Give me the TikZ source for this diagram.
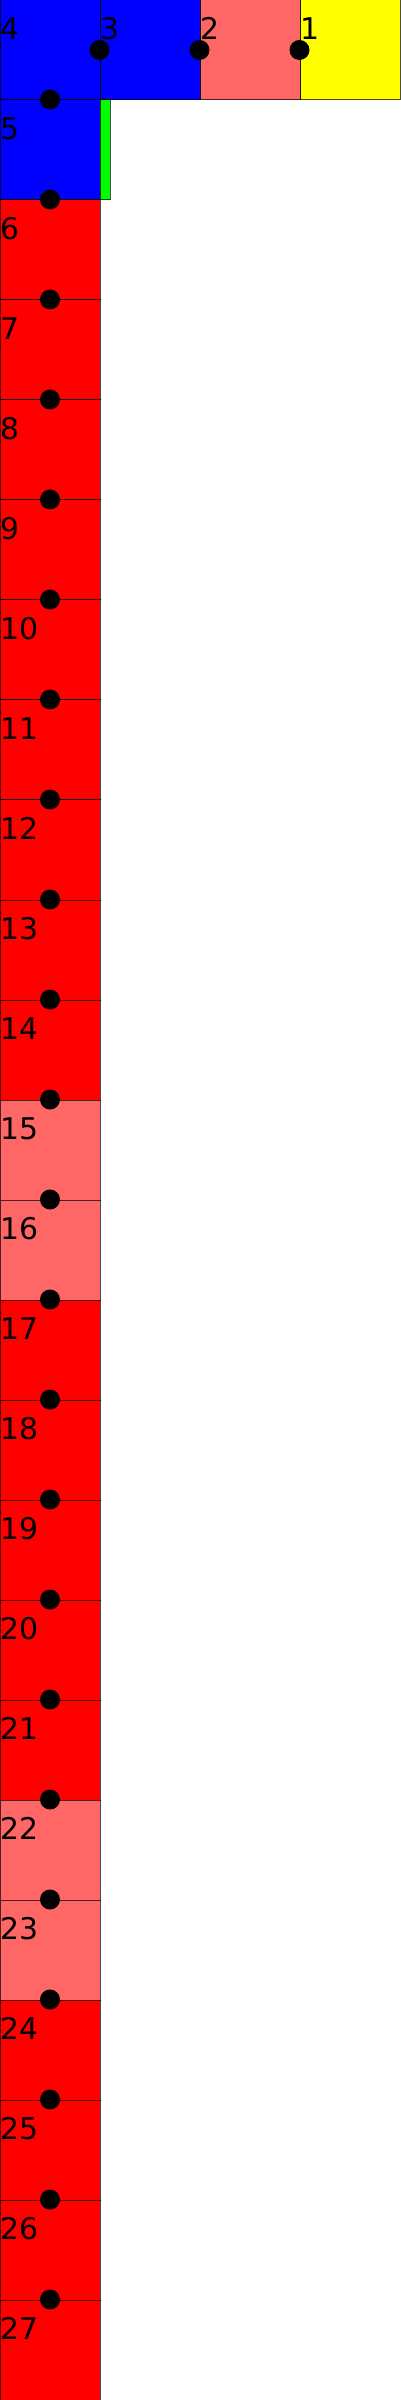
\documentclass[tikz,border=0pt]{standalone}
\usepackage{fontspec}
\setmainfont{DejaVu Sans}
\definecolor{lightred}{HTML}{FF6666}
\definecolor{sqyellow}{HTML}{FFFF00}
\begin{document}
\begin{tikzpicture}[
    sq/.style={rectangle, draw=black, draw opacity=0.7, line width=0.01cm, minimum size=1cm, inner sep=0pt},
    num/.style={anchor=base west, inner sep=0pt, xshift=0.005cm, yshift=-0.40cm, font=\fontsize{8.5pt}{10pt}\selectfont},
    dot/.style={circle, fill=black, minimum size=0.2cm, inner sep=0pt},
    bar/.style={rectangle, draw=black, draw opacity=0.7, line width=0.01cm, fill=green, minimum width=0.1cm, minimum height=1cm, inner sep=0pt}
]
    \useasboundingbox (0,0) rectangle (4,-24);

    % Top row
    \node[sq, fill=sqyellow, label={[num]north west:1}] (s1) at (3.5,-0.5) {};
    \node[sq, fill=lightred, label={[num]north west:2}] (s2) at (2.5,-0.5) {};
    \node[sq, fill=blue, label={[num]north west:3}] (s3) at (1.5,-0.5) {};
    \node[sq, fill=blue, label={[num]north west:4}] (s4) at (0.5,-0.5) {};

    % Column
    \foreach \n/\c in {5/blue, 6/red, 7/red, 8/red, 9/red, 10/red, 11/red, 12/red, 13/red, 14/red,
                       15/lightred, 16/lightred, 17/red, 18/red, 19/red, 20/red, 21/red,
                       22/lightred, 23/lightred, 24/red, 25/red, 26/red, 27/red}
        \node[sq, fill=\c, label={[num]north west:\n}] (s\n) at (0.5,-\n+3.5) {};

    % Green bar
    \node[bar] (g) at (1.05,-1.5) {};

    % Joints
    \node[dot] (d12) at (s1.west) {};
    \node[dot] (d23) at (s2.west) {};
    \node[dot] (d34) at (s3.west) {};
    \foreach \n in {5,...,27}
        \node[dot] (d\n) at (s\n.north) {};
\end{tikzpicture}
\end{document}
